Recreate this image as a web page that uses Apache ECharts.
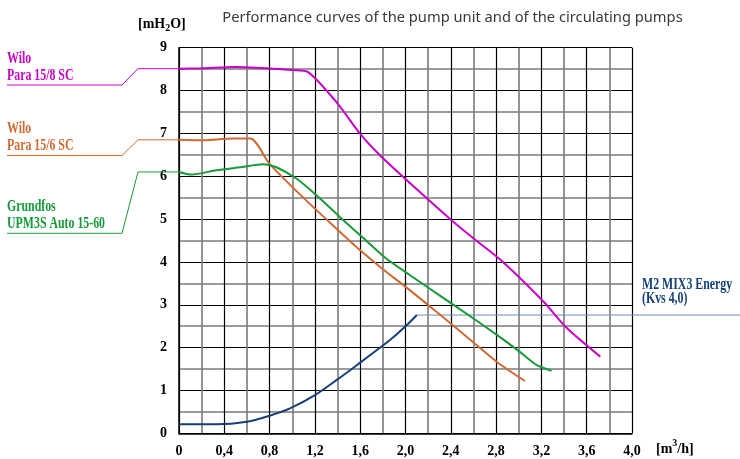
<!DOCTYPE html>
<html><head><meta charset="utf-8">
<script src="https://cdn.jsdelivr.net/npm/echarts@6/dist/echarts.min.js"></script>
<style>html,body{margin:0;padding:0;background:#fff}#c{width:740px;height:459px}</style>
</head><body><div id="c"></div>
<script>
const titleText = 'Performance curves of the pump unit and of the circulating pumps';
const xTickLabels = ['0','0,4','0,8','1,2','1,6','2,0','2,4','2,8','3,2','3,6','4,0'];
const yTickLabels = ['0','1','2','3','4','5','6','7','8','9'];

const wilo8Name = ['Wilo', 'Para 15/8 SC'];
const wilo8X = [0, 0.2, 0.5, 0.83, 1.0, 1.14, 1.39, 1.6, 1.77, 1.98, 2.19, 2.39, 2.61, 2.86, 3.22, 3.42, 3.72];
const wilo8Y = [8.51, 8.52, 8.55, 8.51, 8.48, 8.43, 7.73, 6.99, 6.50, 5.98, 5.48, 5.01, 4.53, 4.0, 3.07, 2.47, 1.79];

const wilo6Name = ['Wilo', 'Para 15/6 SC'];
const wilo6X = [0, 0.18, 0.48, 0.63, 0.80, 1.07, 1.36, 1.6, 1.8, 2.01, 2.30, 2.60, 2.81, 3.055];
const wilo6Y = [6.85, 6.84, 6.88, 6.88, 6.29, 5.57, 4.85, 4.27, 3.83, 3.40, 2.78, 2.12, 1.66, 1.22];

const grundName = ['Grundfos', 'UPM3S Auto 15-60'];
const grundX = [0, 0.11, 0.33, 0.54, 0.745, 0.86, 1.04, 1.216, 1.42, 1.63, 1.83, 2.04, 2.30, 2.60, 2.81, 3.01, 3.16, 3.29];
const grundY = [6.10, 6.04, 6.14, 6.21, 6.28, 6.21, 5.94, 5.55, 5.05, 4.55, 4.08, 3.69, 3.22, 2.68, 2.29, 1.90, 1.59, 1.46];

const mixName = ['M2 MIX3 Energy', '(Kvs 4,0)'];
const mixX = [0, 0.33, 0.6, 0.8, 0.98, 1.2, 1.39, 1.57, 1.86, 2.01, 2.10];
const mixY = [0.21, 0.21, 0.27, 0.41, 0.58, 0.89, 1.24, 1.59, 2.17, 2.52, 2.76];

const C_MAG = '#c800c8', C_ORA = '#cf6a32', C_GRN = '#169a3a', C_NAV = '#15407a', C_NAVL = '#7090b5';
const SERIF = '"Liberation Serif", "Times New Roman", serif';

function zip(xs, ys) { return xs.map((x, i) => [x, ys[i]]); }

const chart = echarts.init(document.getElementById('c'), null, {renderer: 'canvas'});

function mkSeries(name, xs, ys, color) {
  return {
    name: name.join(' '), type: 'line', data: zip(xs, ys), smooth: 0.25, symbol: 'none',
    lineStyle: {color: color, width: 2}, z: 5
  };
}

chart.setOption({
  animation: false,
  backgroundColor: '#fff',
  grid: {left: 179, right: 108, top: 47.7, bottom: 25.7, containLabel: false},
  xAxis: {
    type: 'value', min: 0, max: 4, interval: 0.4,
    axisLine: {show: true, lineStyle: {color: '#000', width: 1.5}},
    axisTick: {show: false},
    axisLabel: {margin: 11, color: '#000', fontFamily: SERIF, fontWeight: 'bold', fontSize: 14,
      formatter: v => xTickLabels[Math.round(v / 0.4)]},
    splitLine: {show: true, lineStyle: {color: '#000', width: 1.2}},
    minorTick: {show: false, splitNumber: 2},
    minorSplitLine: {show: true, lineStyle: {color: '#7a7a7a', width: 1.6}}
  },
  yAxis: {
    type: 'value', min: 0, max: 9, interval: 1,
    axisLine: {show: true, lineStyle: {color: '#000', width: 1.5}},
    axisTick: {show: false},
    axisLabel: {margin: 12, color: '#000', fontFamily: SERIF, fontWeight: 'bold', fontSize: 14,
      formatter: v => yTickLabels[Math.round(v)]},
    splitLine: {show: true, lineStyle: {color: '#000', width: 1.2}},
    minorTick: {show: false, splitNumber: 2},
    minorSplitLine: {show: true, lineStyle: {color: '#7a7a7a', width: 1.6}}
  },
  series: [
    mkSeries(wilo8Name, wilo8X, wilo8Y, C_MAG),
    mkSeries(wilo6Name, wilo6X, wilo6Y, C_ORA),
    mkSeries(grundName, grundX, grundY, C_GRN),
    mkSeries(mixName, mixX, mixY, C_NAV)
  ]
});

function px(x, y) { return chart.convertToPixel({gridIndex: 0}, [x, y]); }

const g = [];
g.push({type: 'text', x: 452.5, y: 18, style: {text: titleText, align: 'center', verticalAlign: 'middle',
  font: '14.7px "Noto Sans", sans-serif', fill: '#3a3a3a'}});
g.push({type: 'text', x: 138, y: 24, style: {text: '[mH{s|2}O]', align: 'left', verticalAlign: 'middle',
  fontFamily: SERIF, fontWeight: 'bold', fontSize: 14, fill: '#000', lineHeight: 18,
  rich: {s: {fontFamily: SERIF, fontWeight: 'bold', fontSize: 10, lineHeight: 10, verticalAlign: 'bottom', fill: '#000'}}}});
g.push({type: 'text', x: 656, y: 449, style: {text: '[m{s|3}/h]', align: 'left', verticalAlign: 'middle',
  fontFamily: SERIF, fontWeight: 'bold', fontSize: 14, fill: '#000', lineHeight: 22,
  rich: {s: {fontFamily: SERIF, fontWeight: 'bold', fontSize: 10, lineHeight: 8, verticalAlign: 'top', fill: '#000'}}}});

function leftLabel(lines, xs, ys, color, y1, y2, uy) {
  const p = px(xs[0], ys[0]);
  g.push({type: 'polyline', shape: {points: [[7, uy], [122, uy], [138, p[1]], [p[0], p[1]]]},
    style: {stroke: color, lineWidth: 1, fill: null}, z: 3});
  [[lines[0], y1], [lines[1], y2]].forEach(([t, y]) => {
    g.push({type: 'text', x: 7, y: y, scaleX: 0.74, style: {text: t, align: 'left', verticalAlign: 'middle',
      fontFamily: SERIF, fontWeight: 'bold', fontSize: 16, fill: color}, z: 4});
  });
}
leftLabel(wilo8Name, wilo8X, wilo8Y, C_MAG, 59, 76, 85);
leftLabel(wilo6Name, wilo6X, wilo6Y, C_ORA, 129, 146, 155.5);
leftLabel(grundName, grundX, grundY, C_GRN, 207, 224, 233.3);

const pe = px(mixX[mixX.length - 1], mixY[mixY.length - 1]);
g.push({type: 'line', shape: {x1: pe[0], y1: pe[1], x2: 740, y2: pe[1]}, style: {stroke: C_NAVL, lineWidth: 1}, z: 4});
g.push({type: 'text', x: 642, y: 285, scaleX: 0.74, style: {text: mixName[0], align: 'left', verticalAlign: 'middle',
  fontFamily: SERIF, fontWeight: 'bold', fontSize: 16, fill: C_NAV}, z: 4});
g.push({type: 'text', x: 642, y: 299, scaleX: 0.74, style: {text: mixName[1], align: 'left', verticalAlign: 'middle',
  fontFamily: SERIF, fontWeight: 'bold', fontSize: 16, fill: C_NAV}, z: 4});

chart.setOption({graphic: g});
</script>
</body></html>
